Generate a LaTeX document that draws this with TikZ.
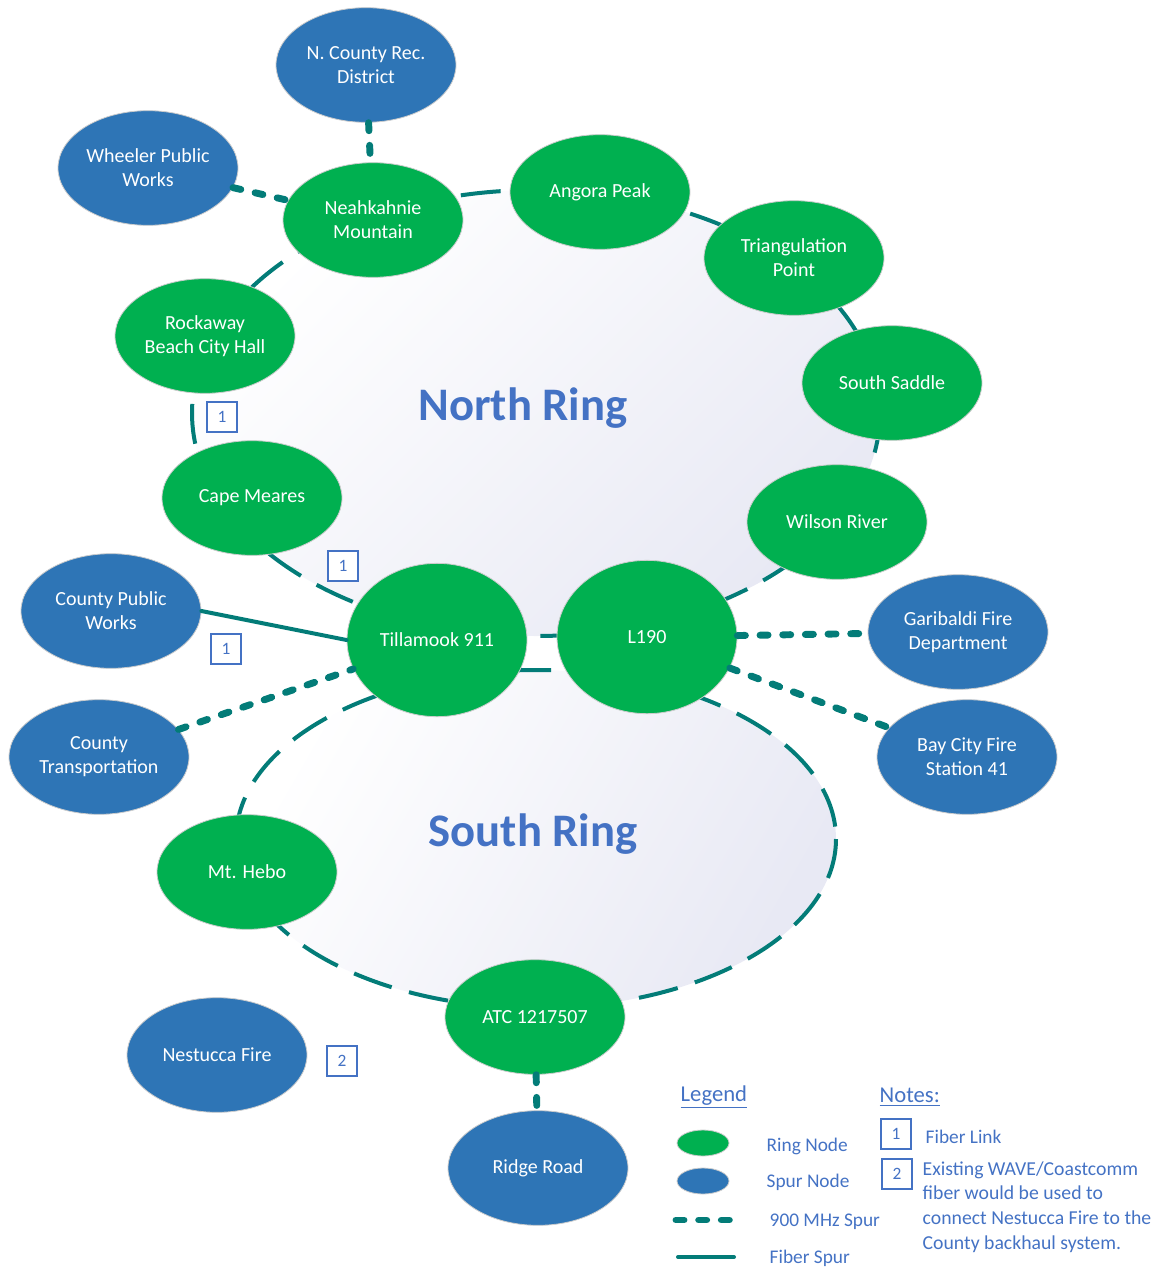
\documentclass[tikz,border=0pt]{standalone}
\usepackage{fontspec}
\setmainfont{Carlito}
\usetikzlibrary{shapes.geometric}
\definecolor{ringgreen}{HTML}{00B050}
\definecolor{spurblue}{HTML}{2E75B6}
\definecolor{linkteal}{HTML}{037C78}
\definecolor{textblue}{HTML}{4472C4}
\definecolor{ringshade}{HTML}{E8E9F4}

\begin{document}
\begin{tikzpicture}[x=0.75pt,y=-0.75pt]
            \tikzset{Site/.style={%
                shape=ellipse,%
                draw=black!20,%
                line width=0.6pt,%
                minimum width=135pt,%
                minimum height=86pt,%
                inner sep=0pt,%
                text=white,%
                align=center,%
                font=\fontsize{15}{18}\selectfont,%
            },
            RingNode/.style={Site, fill=ringgreen},%
            SpurNode/.style={Site, fill=spurblue},%
            HubNode/.style={RingNode, minimum height=115pt},%
            RingPath/.style={draw=linkteal, line width=3pt, dash pattern=on 30pt off 13.5pt},%
            Radio/.style={draw=linkteal, line width=5.2pt, line cap=round, dash pattern=on 6pt off 11pt},%
            Fiber/.style={draw=linkteal, line width=3pt, line cap=round},%
            NoteBox/.style={draw=textblue, fill=white, line width=1.3pt, minimum size=23pt,%
                inner sep=0pt, text=textblue, font=\fontsize{13}{14}\selectfont},%
            KeyText/.style={anchor=west, text=textblue, font=\fontsize{14.5}{18}\selectfont},%
            RingTitle/.style={text=textblue, font=\fontsize{35}{38}\selectfont\bfseries},%
            }

            \useasboundingbox (0,0) rectangle (1162,1268);

            \draw[RingPath, left color=white, right color=ringshade, shading angle=45]
                (536,413) ellipse [x radius=344, y radius=223];
            \draw[RingPath, left color=white, right color=ringshade, shading angle=60]
                (536,839) ellipse [x radius=300, y radius=169];

            \node[RingTitle] (northring) at (523,408) {North Ring};
            \node[RingTitle] (southring) at (533,834) {South Ring};

            \node[SpurNode] (nrec) at (366,65) {N. County Rec.\\District};
            \node[SpurNode] (wheeler) at (148,168) {Wheeler Public\\Works};
            \node[RingNode] (neah) at (373,220) {Neahkahnie\\Mountain};
            \node[RingNode] (angora) at (600,192) {Angora Peak};
            \node[RingNode] (triang) at (794,258) {Triangulation\\Point};
            \node[RingNode] (saddle) at (892,383) {South Saddle};
            \node[RingNode] (wilson) at (837,522) {Wilson River};
            \node[RingNode] (rockaway) at (205,336) {Rockaway\\Beach City Hall};
            \node[RingNode] (meares) at (252,498) {Cape Meares};
            \node[HubNode] (till) at (437,640) {Tillamook 911};
            \node[HubNode] (l190) at (647,637) {L190};
            \node[SpurNode] (cpw) at (111,611) {County Public\\Works};
            \node[SpurNode] (garibaldi) at (958,632) {Garibaldi Fire\\Department};
            \node[SpurNode] (ctrans) at (99,757) {County\\Transportation};
            \node[SpurNode] (baycity) at (967,757) {Bay City Fire\\Station 41};
            \node[RingNode] (hebo) at (247,872) {Mt. Hebo};
            \node[RingNode] (atc) at (535,1017) {ATC 1217507};
            \node[SpurNode] (nestucca) at (217,1055) {Nestucca Fire};
            \node[SpurNode] (ridge) at (538,1168) {Ridge Road};

            \path (nrec) edge[Radio] (neah);
            \path (wheeler) edge[Radio] (neah);
            \path (cpw.east) edge[Fiber] (till.west);
            \path (ctrans) edge[Radio] (till);
            \path (l190) edge[Radio] (garibaldi);
            \path (l190) edge[Radio] (baycity);
            \path (atc) edge[Radio] (ridge);

            \node[NoteBox] (fib1) at (222,417) {1};
            \node[NoteBox] (fib2) at (343,566) {1};
            \node[NoteBox] (fib3) at (226,649) {1};
            \node[NoteBox] (wave) at (342,1061) {2};

            \node[KeyText, font=\fontsize{17}{20}\selectfont] (legend) at (676,1097) {\underline{Legend}};
            \node[KeyText, font=\fontsize{17}{20}\selectfont] (notes) at (875,1097) {\underline{Notes:}};

            \node[RingNode, minimum width=39pt, minimum height=19.5pt] (keyring) at (703,1143) {};
            \node[SpurNode, minimum width=39pt, minimum height=19.5pt] (keyspur) at (703,1181) {};
            \coordinate (keyradioa) at (676,1220);
            \coordinate (keyradiob) at (730,1220);
            \coordinate (keyfibera) at (678,1257);
            \coordinate (keyfiberb) at (734,1257);
            \path (keyradioa) edge[Radio] (keyradiob);
            \path (keyfibera) edge[Fiber] (keyfiberb);
            \node[KeyText] (ringtxt) at (762,1146) {Ring Node};
            \node[KeyText] (spurtxt) at (762,1182) {Spur Node};
            \node[KeyText] (radiotxt) at (765,1222) {900 MHz Spur};
            \node[KeyText] (fibertxt) at (765,1258) {Fiber Spur};

            \node[NoteBox] (key1) at (896,1134) {1};
            \node[NoteBox] (key2) at (897,1174) {2};
            \node[KeyText] (linktxt) at (921,1137) {Fiber Link};
            \node[KeyText, anchor=north west, align=left, font=\fontsize{14.8}{18.4}\selectfont]
                (wavetxt) at (918,1157) {Existing WAVE/Coastcomm\\fiber would be used to\\connect Nestucca Fire to the\\County backhaul system.};
        \end{tikzpicture}
\end{document}
